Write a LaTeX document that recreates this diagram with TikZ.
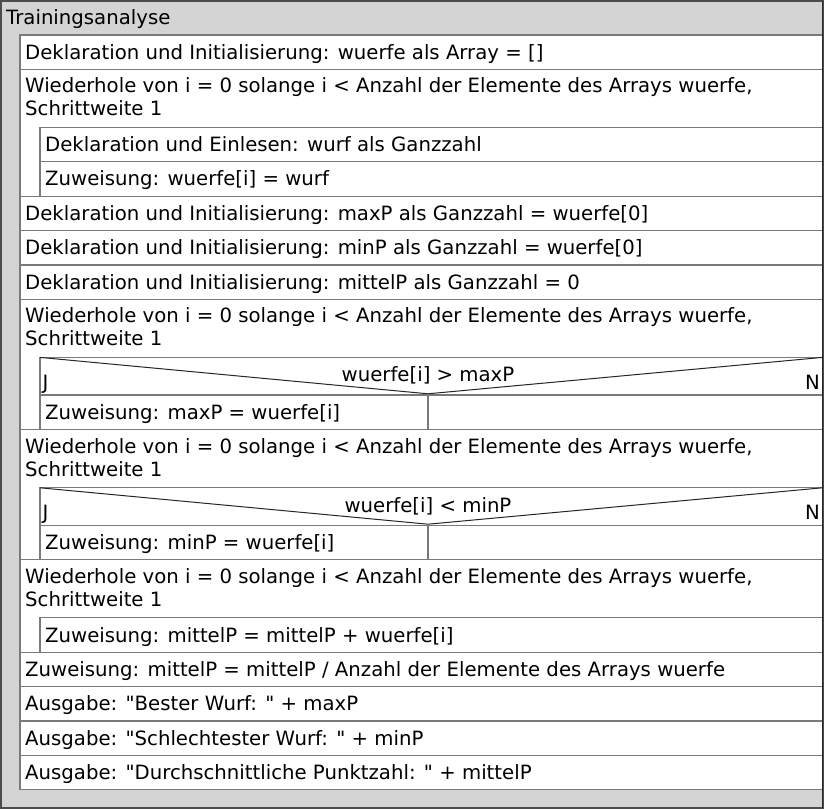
\documentclass[tikz,border=0pt]{standalone}
\usepackage{fontspec}
\newfontfamily\diagfont{DejaVu Sans}
\usepackage{tikz}
\usetikzlibrary{calc}
\definecolor{bggray}{HTML}{D4D4D4}
\definecolor{linegray}{HTML}{7A7A7A}

\begin{document}
\begin{tikzpicture}[x=1pt,y=-1pt]
\tikzstyle{block}=[draw=linegray,fill=white,line width=1.2pt]
\tikzstyle{stmt}=[anchor=base west,inner sep=0pt,font=\diagfont\fontsize{19.7}{23}\selectfont,align=left]
\useasboundingbox (0,0) rectangle (828,810);
\fill[white] (0,0) rectangle (828,810);
\draw[fill=bggray,draw=black!70,line width=2pt] (1,1) rectangle (822.5,808);
\node[stmt] (title) at (6,25) {Trainingsanalyse};
% loops
\foreach \name/\top/\bottom in {
	loopA/69.4/196.2,
	loopB/299.4/429.4,
	loopC/429.4/559.8,
	loopD/559.8/652.2}
{
	\draw[block] (20,\top) rectangle (822.5,\bottom);
	\node[stmt] (\name) at (25,\top+46.6) {Wiederhole von i = 0 solange i < Anzahl der Elemente des Arrays wuerfe,\\Schrittweite 1};
}
% plain statements
\foreach \name/\x/\top/\txt in {
	initWuerfe/20/35/{Deklaration und Initialisierung: wuerfe als Array = []},
	readWurf/40/127.4/{Deklaration und Einlesen: wurf als Ganzzahl},
	setWuerfe/40/161.8/{Zuweisung: wuerfe[i] = wurf},
	initMax/20/196.2/{Deklaration und Initialisierung: maxP als Ganzzahl = wuerfe[0]},
	initMin/20/230.6/{Deklaration und Initialisierung: minP als Ganzzahl = wuerfe[0]},
	initMittel/20/265/{Deklaration und Initialisierung: mittelP als Ganzzahl = 0},
	sumMittel/40/617.8/{Zuweisung: mittelP = mittelP + wuerfe[i]},
	divMittel/20/652.2/{Zuweisung: mittelP = mittelP / Anzahl der Elemente des Arrays wuerfe},
	outBest/20/686.6/{Ausgabe: "Bester Wurf: " + maxP},
	outWorst/20/721/{Ausgabe: "Schlechtester Wurf: " + minP},
	outAvg/20/755.4/{Ausgabe: "Durchschnittliche Punktzahl: " + mittelP}}
{
	\draw[block] (\x,\top) rectangle (822.5,\top+34.4);
	\node[stmt] (\name) at (\x+5,\top+24.2) {\txt};
}
% branches
\foreach \name/\top/\test/\act in {
	ifMax/357.4/{wuerfe[i] > maxP}/{Zuweisung: maxP = wuerfe[i]},
	ifMin/487.8/{wuerfe[i] < minP}/{Zuweisung: minP = wuerfe[i]}}
{
	\draw[block] (40,\top) rectangle (822.5,\top+37.6);
	\draw[black!85,line width=1pt] (40,\top) -- (428,\top+36.4) -- (822.5,\top);
	\node[stmt,anchor=base] (\name) at (428,\top+24.3) {\test};
	\node[stmt] (\name-j) at (42.5,\top+32) {J};
	\node[stmt,anchor=base east] (\name-n) at (820,\top+32) {N};
	\draw[block] (40,\top+37.6) rectangle (428,\top+72);
	\draw[block] (428,\top+37.6) rectangle (822.5,\top+72);
	\node[stmt] (\name-act) at (45,\top+61.8) {\act};
}
\draw[black!85,line width=1.5pt] (822.5,1) -- (822.5,808);
\end{tikzpicture}
\end{document}
